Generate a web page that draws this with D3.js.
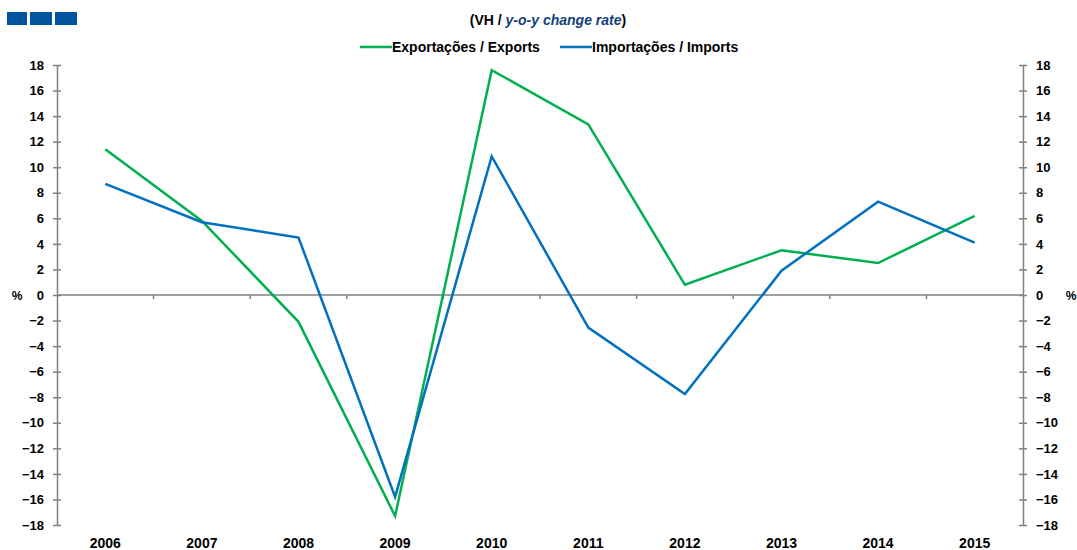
<!DOCTYPE html>
<html>
<head>
<meta charset="utf-8">
<script src="https://cdn.jsdelivr.net/npm/d3@7"></script>
<style>
  body { margin: 0; background: #fff; }
  svg { display: block; font-family: "Liberation Sans", Arial, sans-serif; }
  .axis text { font-size: 13px; font-weight: bold; fill: #000; }
  .axis path, .axis line { stroke: #808080; stroke-width: 1.5; }
</style>
</head>
<body>
<svg id="chart"></svg>
<script>
var years = ["2006","2007","2008","2009","2010","2011","2012","2013","2014","2015"];
var exportsVH = [11.4, 5.8, -2.1, -17.3, 17.6, 13.35, 0.8, 3.5, 2.5, 6.2];
var importsVH = [8.7, 5.7, 4.5, -15.8, 10.85, -2.55, -7.75, 1.9, 7.3, 4.1];
var yTicks = [-18,-16,-14,-12,-10,-8,-6,-4,-2,0,2,4,6,8,10,12,14,16,18];

var W = 1077, H = 550;
var margin = {top: 65, right: 54, bottom: 25, left: 57};
var width = W - margin.left - margin.right,
    height = H - margin.top - margin.bottom;

var svg = d3.select("#chart").attr("width", W).attr("height", H);

// logo blocks
svg.selectAll("rect.logo")
    .data([[7,20],[30,22],[55,22]])
    .enter().append("rect")
    .attr("class", "logo")
    .attr("x", function(d){ return d[0]; })
    .attr("y", 12)
    .attr("width", function(d){ return d[1]; })
    .attr("height", 13)
    .attr("fill", "#00559e");

// subtitle
var sub = svg.append("text")
    .attr("x", 548).attr("y", 25)
    .attr("text-anchor", "middle")
    .style("font-size", "14px").style("font-weight", "bold");
sub.append("tspan").text("(VH / ");
sub.append("tspan").attr("fill", "#123f7a").style("font-style", "italic").text("y-o-y change rate");
sub.append("tspan").text(")");

var x = d3.scaleBand().domain(years).range([0, width]);
var y = d3.scaleLinear().domain([-18, 18]).range([height, 0]);

var g = svg.append("g").attr("transform", "translate(" + margin.left + "," + margin.top + ")");

// zero line with category ticks
g.append("line")
    .attr("x1", 0).attr("x2", width)
    .attr("y1", y(0)).attr("y2", y(0))
    .attr("stroke", "#808080").attr("stroke-width", 1.5);
g.selectAll("line.ctick")
    .data(years.slice(1))
    .enter().append("line")
    .attr("class", "ctick")
    .attr("x1", function(d){ return x(d); }).attr("x2", function(d){ return x(d); })
    .attr("y1", y(0)).attr("y2", y(0) + 4)
    .attr("stroke", "#808080").attr("stroke-width", 1.5);

// year labels
g.selectAll("text.year")
    .data(years)
    .enter().append("text")
    .attr("class", "year")
    .attr("x", function(d){ return x(d) + x.bandwidth() / 2; })
    .attr("y", height + 23)
    .attr("text-anchor", "middle")
    .style("font-size", "14px").style("font-weight", "bold")
    .text(function(d){ return d; });

// y axes
var yLeft = d3.axisLeft(y).tickValues(yTicks).tickSizeInner(4).tickSizeOuter(0).tickPadding(9);
var yRight = d3.axisRight(y).tickValues(yTicks).tickSizeInner(4).tickSizeOuter(0).tickPadding(9);

var gl = g.append("g").attr("class", "axis").call(yLeft);
gl.selectAll(".tick line").attr("x1", 4);
var gr = g.append("g").attr("class", "axis").attr("transform", "translate(" + width + ",0)").call(yRight);
gr.selectAll(".tick line").attr("x1", -4);

// % labels
svg.append("text").attr("x", 17).attr("y", margin.top + y(0) + 5)
    .attr("text-anchor", "middle").style("font-size", "12px").style("font-weight", "bold").text("%");
svg.append("text").attr("x", 1071).attr("y", margin.top + y(0) + 5)
    .attr("text-anchor", "middle").style("font-size", "12px").style("font-weight", "bold").text("%");

// lines
var line = d3.line()
    .x(function(d, i){ return x(years[i]) + x.bandwidth() / 2; })
    .y(function(d){ return y(d); });

var series = [
    {name: "Exportações / Exports", values: exportsVH, color: "#00b050"},
    {name: "Importações / Imports", values: importsVH, color: "#0070c0"}
];

g.selectAll("path.series")
    .data(series)
    .enter().append("path")
    .attr("class", "series")
    .attr("fill", "none")
    .attr("stroke", function(d){ return d.color; })
    .attr("stroke-width", 2.5)
    .attr("stroke-linejoin", "miter")
    .attr("d", function(d){ return line(d.values); });

// legend
var legend = svg.selectAll("g.legend")
    .data(series)
    .enter().append("g")
    .attr("class", "legend")
    .attr("transform", function(d, i){ return "translate(" + (360 + i * 200) + ",47)"; });
legend.append("line")
    .attr("x1", 0).attr("x2", 32)
    .attr("stroke", function(d){ return d.color; })
    .attr("stroke-width", 2.5);
legend.append("text")
    .attr("x", 32).attr("y", 5)
    .style("font-size", "14px").style("font-weight", "bold")
    .text(function(d){ return d.name; });
</script>
</body>
</html>
